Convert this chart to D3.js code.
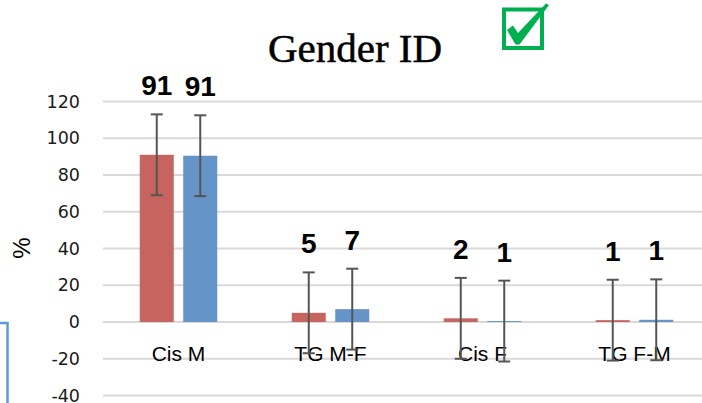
<!DOCTYPE html>
<html><head><meta charset="utf-8">
<script src="https://cdn.jsdelivr.net/npm/d3@7"></script>
<style>body{margin:0;background:#fff}svg{display:block}</style>
</head><body>
<svg id="c" width="702" height="403"></svg>
<script>
const categories = ["Cis M", "TG M-F", "Cis F", "TG F-M"];
const seriesNames = ["A", "B"];
const seriesA = [91, 5, 2, 1];
const seriesB = [90.5, 7, 0.5, 1.2];
const errorA = [22, 22, 22, 22];
const errorB = [22, 22, 22, 22];
const labelsA = ["91", "5", "2", "1"];
const labelsB = ["91", "7", "1", "1"];
const yTicks = [-40, -20, 0, 20, 40, 60, 80, 100, 120];
const colors = ["#C6655F", "#6794C8"];

const svg = d3.select("#c");
const y = d3.scaleLinear().domain([-40, 120]).range([395.5, 101.5]);
const x0 = d3.scaleBand().domain(categories).range([102.5, 710.5]).padding(0);
const x1 = d3.scaleBand().domain(seriesNames).range([-38.75, 38.75]).paddingInner(0.218).paddingOuter(0);

// gridlines
svg.append("g").selectAll("line").data(yTicks).join("line")
  .attr("x1", 103).attr("x2", 712)
  .attr("y1", d => y(d)).attr("y2", d => y(d))
  .attr("stroke", "#D9D9D9").attr("stroke-width", 2);

// y tick labels
svg.append("g").selectAll("text").data(yTicks).join("text")
  .attr("x", 80).attr("y", d => y(d))
  .attr("text-anchor", "end").attr("dominant-baseline", "central")
  .attr("font-family", "DejaVu Sans").attr("font-size", 17.5)
  .attr("fill", "#1a1a1a").text(d => d);

// y axis title
svg.append("text").attr("transform", "translate(30,248) rotate(-90)")
  .attr("text-anchor", "middle").attr("font-family", "Liberation Sans")
  .attr("font-size", 24).attr("fill", "#000").text("%");

const data = [];
categories.forEach((c, i) => {
  data.push({c, s: "A", v: seriesA[i], e: errorA[i], l: labelsA[i], col: colors[0]});
  data.push({c, s: "B", v: seriesB[i], e: errorB[i], l: labelsB[i], col: colors[1]});
});
const cx = d => x0(d.c) + x0.bandwidth() / 2 + x1(d.s);

// bars
svg.append("g").selectAll("rect").data(data).join("rect")
  .attr("x", d => cx(d)).attr("width", x1.bandwidth())
  .attr("y", d => y(d.v)).attr("height", d => y(0) - y(d.v))
  .attr("fill", d => d.col);

// category labels
svg.append("g").selectAll("text").data(categories).join("text")
  .attr("x", d => x0(d) + x0.bandwidth() / 2).attr("y", 361)
  .attr("text-anchor", "middle").attr("font-family", "Liberation Sans")
  .attr("font-size", 21).attr("fill", "#000").text(d => d);

// error bars
const eb = svg.append("g").attr("stroke", "#555").attr("stroke-width", 2);
data.forEach(d => {
  const mx = cx(d) + x1.bandwidth() / 2;
  eb.append("line").attr("x1", mx).attr("x2", mx).attr("y1", y(d.v + d.e)).attr("y2", y(d.v - d.e));
  eb.append("line").attr("x1", mx - 6).attr("x2", mx + 6).attr("y1", y(d.v + d.e)).attr("y2", y(d.v + d.e));
  eb.append("line").attr("x1", mx - 6).attr("x2", mx + 6).attr("y1", y(d.v - d.e)).attr("y2", y(d.v - d.e));
});

// value labels
svg.append("g").selectAll("text").data(data).join("text")
  .attr("x", d => cx(d) + x1.bandwidth() / 2).attr("y", d => y(d.v + d.e) - 19)
  .attr("text-anchor", "middle").attr("font-family", "Liberation Sans")
  .attr("font-weight", "bold").attr("font-size", 28).attr("fill", "#000").text(d => d.l);

// title
svg.append("text").attr("x", 355).attr("y", 62).attr("text-anchor", "middle")
  .attr("font-family", "Liberation Serif").attr("font-size", 41).attr("fill", "#000")
  .attr("stroke", "#000").attr("stroke-width", 0.5).text("Gender ID");

// checkbox
svg.append("rect").attr("x", 504).attr("y", 9.5).attr("width", 38).attr("height", 38.5)
  .attr("fill", "#fff").attr("stroke", "#00B050").attr("stroke-width", 4);
svg.append("path").attr("d", "M507,30 L513,25.5 L518,33 L546,3.5 L549,5 L519.5,44.5 L515.5,44.5 Z")
  .attr("fill", "#00B050");

// partial blue box at left edge
svg.append("path").attr("d", "M0,323 H7.5 V404").attr("fill", "none")
  .attr("stroke", "#5B9BD5").attr("stroke-width", 2.5);
</script>
</body></html>
